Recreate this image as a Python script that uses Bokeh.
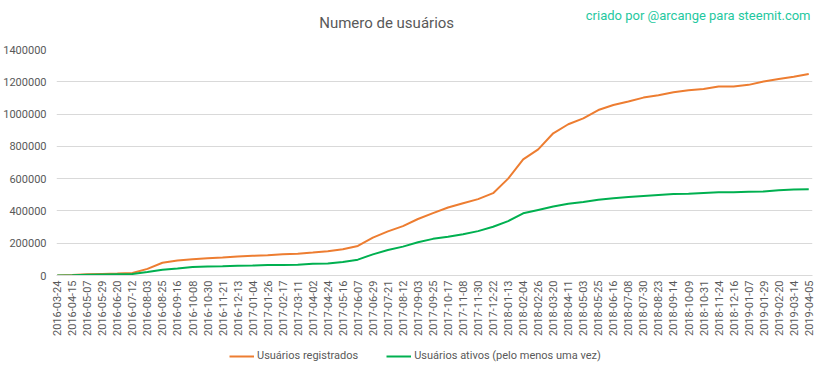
import numpy as np
from bokeh.plotting import figure
from bokeh.layouts import column
from bokeh.models import FixedTicker, Label, Legend, LegendItem, NumeralTickFormatter
from bokeh.embed import file_html
from bokeh.resources import INLINE
import math

dates = ["2016-03-24", "2016-04-15", "2016-05-07", "2016-05-29", "2016-06-20", "2016-07-12",
         "2016-08-03", "2016-08-25", "2016-09-16", "2016-10-08", "2016-10-30", "2016-11-21",
         "2016-12-13", "2017-01-04", "2017-01-26", "2017-02-17", "2017-03-11", "2017-04-02",
         "2017-04-24", "2017-05-16", "2017-06-07", "2017-06-29", "2017-07-21", "2017-08-12",
         "2017-09-03", "2017-09-25", "2017-10-17", "2017-11-08", "2017-11-30", "2017-12-22",
         "2018-01-13", "2018-02-04", "2018-02-26", "2018-03-20", "2018-04-11", "2018-05-03",
         "2018-05-25", "2018-06-16", "2018-07-08", "2018-07-30", "2018-08-23", "2018-09-14",
         "2018-10-09", "2018-10-31", "2018-11-24", "2018-12-16", "2019-01-07", "2019-01-29",
         "2019-02-20", "2019-03-14", "2019-04-05"]

registrados = [0, 3000, 8000, 10000, 12000, 15000, 41000, 79000, 93000, 101000, 107000, 111000,
               118000, 122000, 125000, 131000, 135000, 142000, 150000, 162000, 183000, 235000,
               273000, 306000, 350000, 386000, 421000, 448000, 473000, 510000, 600000, 719000,
               781000, 881000, 937000, 973000, 1025000, 1056000, 1078000, 1102000, 1117000,
               1135000, 1148000, 1156000, 1171000, 1171000, 1181000, 1202000, 1217000, 1231000,
               1248000]

ativos = [0, 1000, 4000, 6000, 8000, 10000, 21000, 36000, 44000, 53000, 55000, 57000,
          61000, 62000, 65000, 65000, 67000, 73000, 75000, 83000, 98000, 131000,
          158000, 179000, 206000, 227000, 240000, 256000, 275000, 302000, 337000, 385000,
          406000, 427000, 444000, 456000, 469000, 479000, 486000, 493000, 499000,
          505000, 507000, 511000, 515000, 515000, 519000, 521000, 528000, 532000, 534000]

y_ticks = [0, 200000, 400000, 600000, 800000, 1000000, 1200000, 1400000]

series_names = ["Usuários registrados", "Usuários ativos (pelo menos uma vez)"]
series_colors = ["#ED7D31", "#00B050"]
chart_title = "Numero de usuários"
credit_text = "criado por @arcange para steemit.com"

x = list(range(len(dates)))

FONT = "Roboto"
GRAY = "#595959"
FRAME_W = 756


def bare(height):
    f = figure(width=816, height=height, output_backend="svg", toolbar_location=None,
               x_range=(0, FRAME_W), y_range=(0, height), x_axis_type=None,
               y_axis_type=None, min_border=0)
    f.outline_line_color = None
    f.grid.visible = False
    return f


# header with title and credit (frames are aligned with the main chart's frame)
tf = bare(43)
tf.add_layout(Label(x=331, y=21, text=chart_title, text_font=FONT, text_font_size="15px",
                    text_color=GRAY, text_align="center", text_baseline="middle"))
tf.add_layout(Label(x=756, y=28, text=credit_text, text_font=FONT, text_font_size="13px",
                    text_color="#1fc8a0", text_align="right", text_baseline="middle"))

# main chart
p = figure(frame_width=FRAME_W, frame_height=226, output_backend="svg", toolbar_location=None,
           x_range=(-0.05, 50.25), y_range=(0, 1400000),
           min_border_left=54, min_border_right=6, min_border_top=6, min_border_bottom=0)
p.outline_line_color = None

r1 = p.line(x, registrados, line_color=series_colors[0], line_width=2)
r2 = p.line(x, ativos, line_color=series_colors[1], line_width=2)

p.xgrid.visible = False
p.ygrid.grid_line_color = "#d9d9d9"
p.ygrid.ticker = FixedTicker(ticks=y_ticks)

p.yaxis.ticker = FixedTicker(ticks=y_ticks)
p.yaxis.formatter = NumeralTickFormatter(format="0")
p.yaxis.axis_line_color = None
p.yaxis.major_tick_line_color = None
p.yaxis.minor_tick_line_color = None
p.yaxis.major_tick_out = 0
p.yaxis.major_label_standoff = 10
p.yaxis.major_label_text_font = FONT
p.yaxis.major_label_text_font_size = "11px"
p.yaxis.major_label_text_color = GRAY

p.xaxis.ticker = FixedTicker(ticks=x)
p.xaxis.major_label_overrides = {i: d for i, d in enumerate(dates)}
p.xaxis.major_label_orientation = math.pi / 2
p.xaxis.axis_line_color = "#d9d9d9"
p.xaxis.major_tick_line_color = None
p.xaxis.minor_tick_line_color = None
p.xaxis.major_tick_out = 0
p.xaxis.major_label_standoff = 5
p.xaxis.major_label_text_font = FONT
p.xaxis.major_label_text_font_size = "11px"
p.xaxis.major_label_text_color = GRAY

# legend strip (proxy renderers hold no drawable points)
lf = bare(30)
l1 = lf.line([np.nan], [np.nan], line_color=series_colors[0], line_width=2)
l2 = lf.line([np.nan], [np.nan], line_color=series_colors[1], line_width=2)
legend = Legend(items=[LegendItem(label=series_names[0], renderers=[l1]),
                       LegendItem(label=series_names[1], renderers=[l2])],
                orientation="horizontal", location=(173, 7),
                label_text_font=FONT, label_text_font_size="11px", label_text_color=GRAY,
                glyph_width=25, glyph_height=12, label_height=12, label_standoff=3,
                padding=0, margin=0, spacing=28, border_line_color=None,
                background_fill_alpha=0)
lf.add_layout(legend, "center")

layout = column(tf, p, lf, spacing=0)
open("out.html", "w").write(file_html(layout, INLINE))
